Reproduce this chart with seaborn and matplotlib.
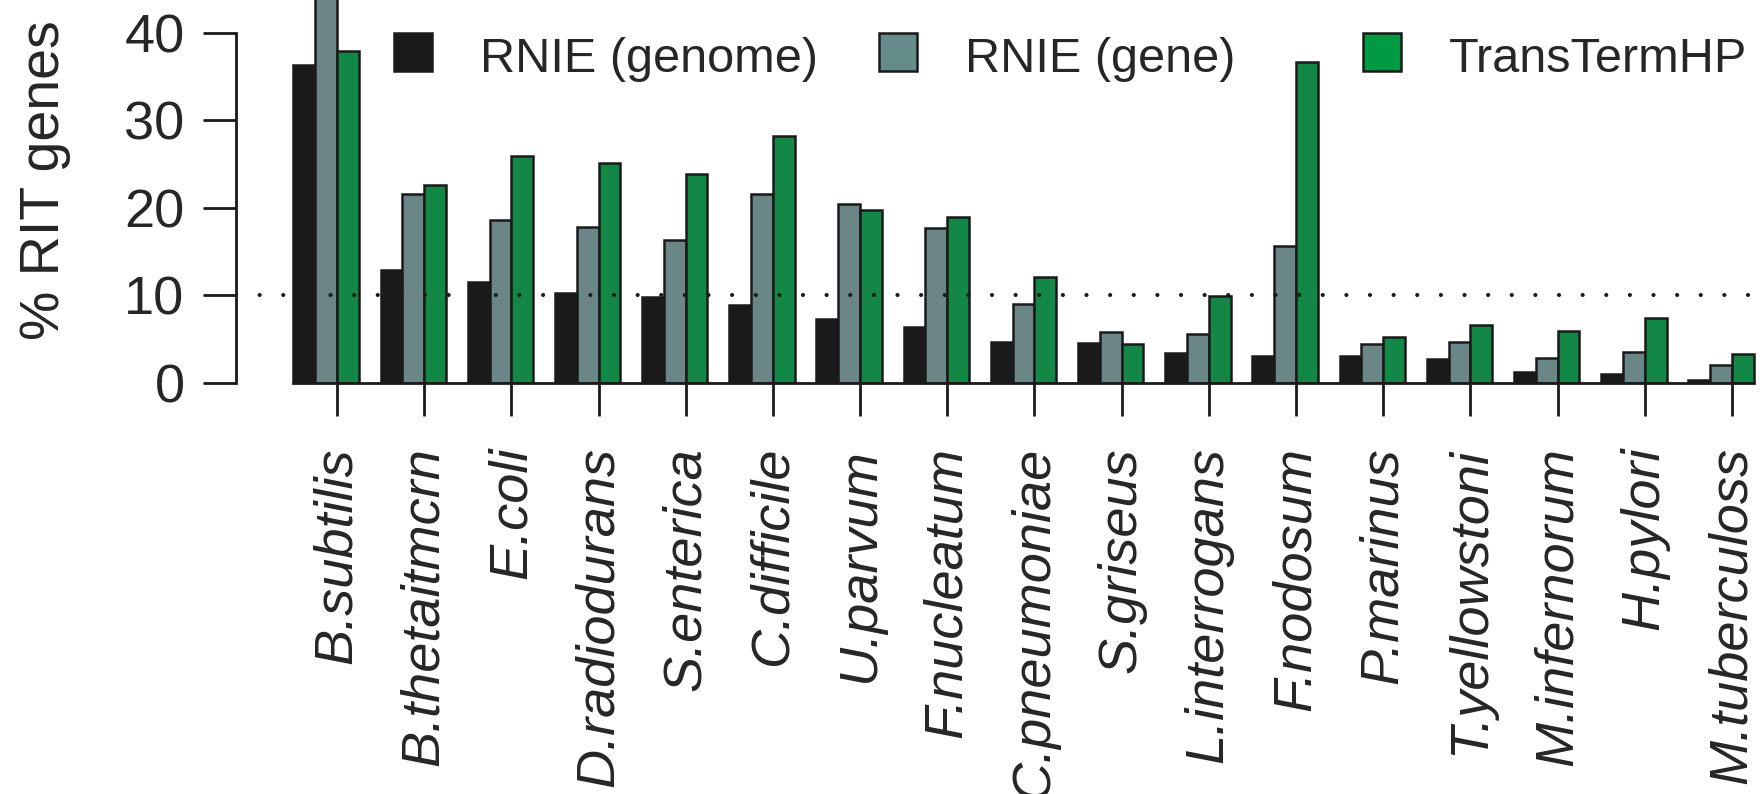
import pandas as pd
import numpy as np
import matplotlib.pyplot as plt
import seaborn as sns
from matplotlib.patches import Rectangle

# values
species = ["B.subtilis", "B.thetaitmcrn", "E.coli", "D.radiodurans", "S.enterica",
           "C.difficile", "U.parvum", "F.nucleatum", "C.pneumoniae", "S.griseus",
           "L.interrogans", "F.nodosum", "P.marinus", "T.yellowstoni", "M.infernorum",
           "H.pylori", "M.tuberculoss"]
methods = ["RNIE (genome)", "RNIE (gene)", "TransTermHP"]
rnie_genome = [36.3, 12.9, 11.5, 10.3, 9.8, 8.9, 7.3, 6.4, 4.7, 4.6, 3.4, 3.1, 3.1, 2.7, 1.3, 1.0, 0.3]
rnie_gene = [46.0, 21.6, 18.6, 17.8, 16.3, 21.6, 20.5, 17.7, 9.0, 5.8, 5.6, 15.6, 4.4, 4.7, 2.8, 3.5, 2.0]
transterm = [37.9, 22.6, 25.9, 25.1, 23.9, 28.2, 19.8, 19.0, 12.1, 4.5, 9.9, 36.7, 5.2, 6.6, 5.9, 7.4, 3.3]
colors = ["#1a1a1a", "#668b8b", "#009a42"]

df = pd.DataFrame({
    "species": species * 3,
    "method": [methods[0]] * len(species) + [methods[1]] * len(species) + [methods[2]] * len(species),
    "pct": rnie_genome + rnie_gene + transterm,
})

sns.set_style("white")
plt.rcParams["font.family"] = ["Liberation Sans", "DejaVu Sans"]
plt.rcParams["lines.scale_dashes"] = False

W, H = 1762, 794
fig = plt.figure(figsize=(W / 100, H / 100), dpi=100)
ax = fig.add_axes([236 / W, 1 - 383 / H, 1 - 236 / W, 383 / H])

sns.barplot(data=df, x="species", y="pct", hue="method", hue_order=methods,
            palette=colors, width=0.75, gap=0, edgecolor="#1a1a1a", linewidth=1.8,
            errorbar=None, legend=False, ax=ax)

# dotted 10% reference line, dots about 24 px apart
ax.axhline(10, color="#1a1a1a", lw=3, ls=(0, (0.01, 17)), dash_capstyle="round", zorder=5)

ax.set_ylim(0, 43.77)
ax.set_xlim(-1.033, 16.47)
ax.set_yticks([0, 10, 20, 30, 40])
ax.set_yticklabels(["0", "10", "20", "30", "40"], fontsize=39)
ax.set_xticks(np.arange(len(species)) + 0.125)
ax.set_xticklabels(species, rotation=90, fontsize=39, style="italic", va="top")
ax.set_xlabel("")
ax.set_ylabel("")

for s in ["top", "right"]:
    ax.spines[s].set_visible(False)
ax.spines["left"].set_bounds(0, 40)
ax.spines["bottom"].set_bounds(-0.375, len(species) - 0.625)
for s in ["left", "bottom"]:
    ax.spines[s].set_linewidth(2)
    ax.spines[s].set_color("#1a1a1a")
ax.tick_params(axis="both", direction="out", length=24, width=2, color="#1a1a1a")
ax.tick_params(axis="y", pad=13, left=True)
ax.tick_params(axis="x", pad=22, bottom=True)

fig.text(45 / W, 1 - 180 / H, "% RIT genes", rotation=90, ha="center", va="center", fontsize=40)

# legend in one row, equal column widths as in the picture
for i, (name, col) in enumerate(zip(methods, colors)):
    x0 = (394 + i * 484.5) / W
    fig.add_artist(Rectangle((x0, 1 - 71 / H), 38 / W, 38 / H, transform=fig.transFigure,
                             facecolor=col, edgecolor="#1a1a1a", lw=1.8))
    fig.text(x0 + 86 / W, 1 - 72 / H, name, ha="left", va="baseline", fontsize=35)

fig.savefig("out.png", dpi=100)
